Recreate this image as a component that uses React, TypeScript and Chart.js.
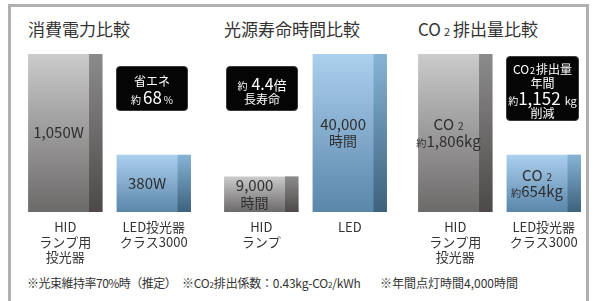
import React, { useEffect, useRef } from "react";
import { Chart, registerables } from "chart.js";

Chart.register(...registerables);

const FONT = '"Noto Sans CJK JP", "Noto Sans", sans-serif';

// ---- data ----
const powerCategories = [["HID", "ランプ用", "投光器"], ["LED投光器", "クラス3000"]];
const powerValues = [1050, 380];
const powerBarLabels = [["1,050W"], ["380W"]];

const lifeCategories = [["HID", "ランプ"], ["LED"]];
const lifeValues = [9000, 40000];
const lifeBarLabels = [["9,000", "時間"], ["40,000", "時間"]];

const co2Categories = [["HID", "ランプ用", "投光器"], ["LED投光器", "クラス3000"]];
const co2Values = [1806, 654];
const co2BarLabels = [["CO₂", "約1,806kg"], ["CO₂", "約654kg"]];

// gradient stops: [light top, light bottom, strip top, strip bottom]
const barPalettes = [
  ["#cbcbcb", "#6c6969", "#8c8b8b", "#4d4949"],
  ["#acd0ee", "#5a86aa", "#86b3d5", "#3c627d"],
];

function drawRich(ctx: CanvasRenderingContext2D, text: string, cx: number, cy: number, size: number) {
  const runs: { t: string; s: number; gap: number }[] = [];
  for (const ch of Array.from(text)) {
    if (ch === "約") runs.push({ t: ch, s: size * 0.68, gap: 0 });
    else if (ch === "₂") runs.push({ t: "2", s: size * 0.68, gap: size * 0.25 });
    else runs.push({ t: ch, s: size, gap: 0 });
  }
  let total = 0;
  for (const r of runs) {
    ctx.font = `${r.s}px ${FONT}`;
    total += ctx.measureText(r.t).width + r.gap;
  }
  let x = cx - total / 2;
  const baseline = cy + size * 0.36;
  ctx.textAlign = "left";
  ctx.textBaseline = "alphabetic";
  for (const r of runs) {
    ctx.font = `${r.s}px ${FONT}`;
    x += r.gap;
    ctx.fillText(r.t, x, baseline);
    x += ctx.measureText(r.t).width;
  }
}

const STRIP = 0.18;

function makeChart(canvas: HTMLCanvasElement, categories: string[][], values: number[], barLabels: string[][]) {
  const stripPlugin = {
    id: "strip",
    afterDatasetsDraw(chart: any) {
      const ctx = chart.ctx as CanvasRenderingContext2D;
      const meta = chart.getDatasetMeta(0);
      meta.data.forEach((el: any, i: number) => {
        const { x, y, base, width } = el.getProps(["x", "y", "base", "width"], true);
        const sw = width * STRIP;
        const pal = barPalettes[i];
        const g = ctx.createLinearGradient(0, y, 0, base);
        g.addColorStop(0, pal[2]);
        g.addColorStop(1, pal[3]);
        ctx.save();
        ctx.fillStyle = g;
        ctx.fillRect(x + width / 2 - sw, y, sw, base - y);
        ctx.fillStyle = "#2e2e2e";
        const lines = barLabels[i];
        const cx = x - sw / 2;
        const cy = (y + base) / 2;
        const gap = 16.5;
        lines.forEach((ln, k) => {
          const ly = cy + (k - (lines.length - 1) / 2) * gap;
          drawRich(ctx, ln, cx, ly, /[時間]/.test(ln) && ln.length <= 2 ? 14 : 15);
        });
        ctx.restore();
      });
    },
  };

  return new Chart(canvas, {
    type: "bar",
    data: {
      labels: categories as any,
      datasets: [
        {
          data: values,
          borderWidth: 0,
          categoryPercentage: 1,
          barPercentage: 0.84,
          backgroundColor: (c: any) => {
            const chart = c.chart;
            if (!chart.chartArea) return "transparent";
            const ys = chart.scales.y;
            const y0 = ys.getPixelForValue(c.raw);
            const y1 = ys.getPixelForValue(0);
            const pal = barPalettes[c.dataIndex];
            const g = chart.ctx.createLinearGradient(0, y0, 0, y1);
            g.addColorStop(0, pal[0]);
            g.addColorStop(1, pal[1]);
            return g;
          },
        },
      ],
    },
    options: {
      animation: false,
      responsive: false,
      maintainAspectRatio: false,
      layout: { padding: 0 },
      plugins: { legend: { display: false }, tooltip: { enabled: false } },
      scales: {
        x: {
          grid: { display: false, drawTicks: false },
          border: { display: false },
          ticks: {
            color: "#333",
            padding: 8,
            autoSkip: false,
            maxRotation: 0,
            font: { family: FONT, size: 13, lineHeight: 15 / 13 },
          },
          afterFit: (s: any) => {
            s.height = 60;
          },
        },
        y: { display: false, min: 0, max: Math.max(...values) },
      },
    },
    plugins: [stripPlugin],
  });
}

const Sub2 = ({ size, gap = 3 }: { size: number; gap?: number }) => (
  <span style={{ fontSize: size, margin: `0 ${gap}px 0 ${gap}px` }}>2</span>
);

function Line({ cy, top, children, style }: any) {
  return (
    <div
      style={{
        position: "absolute",
        left: 0,
        width: "100%",
        top: cy - top - 10,
        height: 20,
        lineHeight: "20px",
        textAlign: "center",
        whiteSpace: "nowrap",
        ...style,
      }}
    >
      {children}
    </div>
  );
}

function Box({ left, top, width, height, children }: any) {
  return (
    <div
      style={{
        position: "absolute",
        left,
        top,
        width,
        height,
        background: "#050505",
        border: "1px solid #3a3a3a",
        borderRadius: 4,
        boxSizing: "border-box",
        color: "#fff",
        fontFamily: FONT,
      }}
    >
      {children}
    </div>
  );
}

export default function App() {
  const r1 = useRef<HTMLCanvasElement>(null);
  const r2 = useRef<HTMLCanvasElement>(null);
  const r3 = useRef<HTMLCanvasElement>(null);

  useEffect(() => {
    const c1 = makeChart(r1.current!, powerCategories, powerValues, powerBarLabels);
    const c2 = makeChart(r2.current!, lifeCategories, lifeValues, lifeBarLabels);
    const c3 = makeChart(r3.current!, co2Categories, co2Values, co2BarLabels);
    return () => {
      c1.destroy();
      c2.destroy();
      c3.destroy();
    };
  }, []);

  const title: React.CSSProperties = {
    position: "absolute",
    top: 19,
    fontSize: 17,
    lineHeight: "20px",
    color: "#333",
    fontFamily: FONT,
    whiteSpace: "nowrap",
  };
  const canvasStyle = (left: number): React.CSSProperties => ({
    position: "absolute",
    left,
    top: 54,
    width: 177,
    height: 218,
  });
  const foot: React.CSSProperties = {
    position: "absolute",
    top: 274,
    fontSize: 12,
    lineHeight: "18px",
    color: "#333",
    fontFamily: FONT,
    whiteSpace: "nowrap",
  };

  return (
    <div
      style={{
        position: "fixed",
        left: 0,
        top: 0,
        width: 593,
        height: 301,
        overflow: "hidden",
        background: "#fff",
      }}
    >
      <div
        style={{
          position: "absolute",
          left: 8,
          top: 4,
          width: 581,
          height: 320,
          border: "3px solid #b0b0b0",
          boxSizing: "border-box",
        }}
      />
      <div style={{ ...title, left: 28 }}>消費電力比較</div>
      <div style={{ ...title, left: 224 }}>光源寿命時間比較</div>
      <div style={{ ...title, left: 418 }}>
        CO<Sub2 size={11} gap={3} />排出量比較
      </div>

      <canvas ref={r1} width={177} height={218} style={canvasStyle(21)} />
      <canvas ref={r2} width={177} height={218} style={canvasStyle(217)} />
      <canvas ref={r3} width={177} height={218} style={canvasStyle(411)} />

      <Box left={116} top={66} width={72} height={45}>
        <Line cy={80} top={66} style={{ fontSize: 12 }}>省エネ</Line>
        <Line cy={96} top={66}>
          <span style={{ fontSize: 10 }}>約</span>
          <span style={{ fontSize: 17, margin: "0 2px" }}>68</span>
          <span style={{ fontSize: 10 }}>%</span>
        </Line>
      </Box>

      <Box left={226} top={66} width={72} height={45}>
        <Line cy={82} top={66}>
          <span style={{ fontSize: 10 }}>約</span>
          <span style={{ fontSize: 16, marginLeft: 4 }}>4.4</span>
          <span style={{ fontSize: 13 }}>倍</span>
        </Line>
        <Line cy={98} top={66} style={{ fontSize: 12 }}>長寿命</Line>
      </Box>

      <Box left={506} top={56} width={73} height={65}>
        <Line cy={68} top={56} style={{ fontSize: 12 }}>
          CO<Sub2 size={9} gap={1} />排出量
        </Line>
        <Line cy={82} top={56} style={{ fontSize: 12 }}>年間</Line>
        <Line cy={97} top={56}>
          <span style={{ fontSize: 10 }}>約</span>
          <span style={{ fontSize: 17 }}>1,152</span>
          <span style={{ fontSize: 11, marginLeft: 4 }}>kg</span>
        </Line>
        <Line cy={111.5} top={56} style={{ fontSize: 12 }}>削減</Line>
      </Box>

      <div style={{ ...foot, left: 27, letterSpacing: -0.5 }}>※光束維持率70%時（推定）</div>
      <div style={{ ...foot, left: 182, letterSpacing: -0.2 }}>
        ※CO<span style={{ fontSize: 8 }}>2</span>排出係数：0.43kg-CO<span style={{ fontSize: 8 }}>2</span>/kWh
      </div>
      <div style={{ ...foot, left: 380 }}>※年間点灯時間4,000時間</div>
    </div>
  );
}
